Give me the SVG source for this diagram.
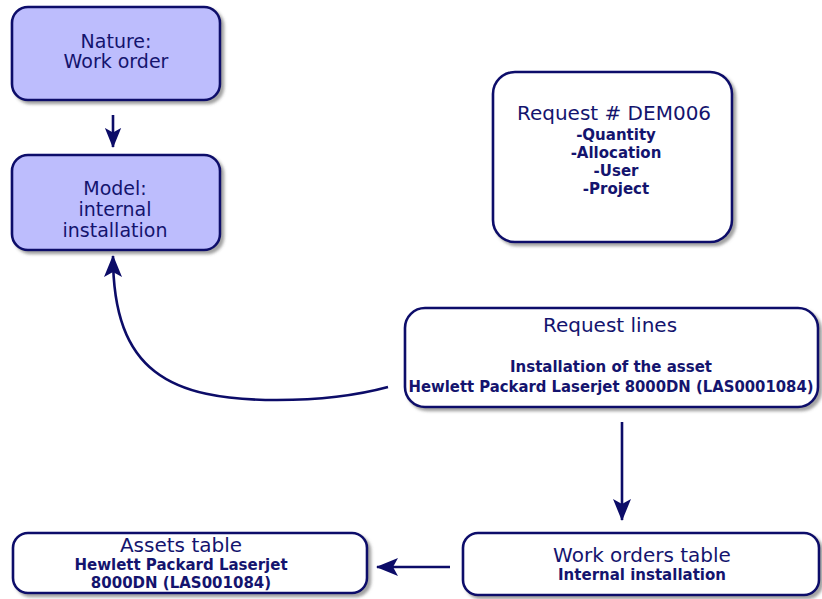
<svg xmlns="http://www.w3.org/2000/svg" width="822" height="599" viewBox="0 0 822 599">
<style>
.box{stroke:#11116b;stroke-width:2.6;filter:url(#sh)}
.blue{fill:#bdbdfd}
.white{fill:#ffffff}
.t{font-family:"DejaVu Sans",Verdana,sans-serif;fill:#14146e;text-anchor:middle}
.n{font-size:20px}
.m{font-size:19px}
.b{font-size:15px;font-weight:bold}
.c{fill:none;stroke:#0c0c68;stroke-width:2.6}
</style>
<defs>
<filter id="sh" x="-10%" y="-10%" width="120%" height="130%">
<feDropShadow dx="3" dy="3" stdDeviation="1.8" flood-color="#555" flood-opacity="0.55"/>
</filter>
<marker id="ah" viewBox="0 0 22 18" refX="21" refY="9" markerWidth="22" markerHeight="18" markerUnits="userSpaceOnUse" orient="auto">
<path d="M22,9 L0,0 L5,9 L0,18 Z" fill="#0c0c68"/>
</marker>
<marker id="ahs" viewBox="0 0 22 18" refX="21" refY="9" markerWidth="20" markerHeight="17" markerUnits="userSpaceOnUse" orient="auto">
<path d="M22,9 L0,0 L5,9 L0,18 Z" fill="#0c0c68"/>
</marker>
</defs>
<rect width="822" height="599" fill="#ffffff"/>

<g id="connectors">
<path class="c" d="M113,115 L113,147" marker-end="url(#ahs)"/>
<path class="c" d="M388,387 Q340,400 277,400 C170,400 113,372 113,256" marker-end="url(#ah)"/>
<path class="c" d="M622,422 L622,520" marker-end="url(#ah)"/>
<path class="c" d="M450,567 L377,567" marker-end="url(#ah)"/>
</g>

<g id="nature">
<rect class="box blue" x="12" y="7" width="208" height="93" rx="16"/>
<text class="t m" x="116" y="48">Nature:</text>
<text class="t m" x="116" y="68">Work order</text>
</g>

<g id="model">
<rect class="box blue" x="12" y="155" width="208" height="95" rx="16"/>
<text class="t m" x="115" y="195">Model:</text>
<text class="t m" x="115" y="216">internal</text>
<text class="t m" x="115" y="237">installation</text>
</g>

<g id="request">
<rect class="box white" x="493" y="72" width="239" height="170" rx="22"/>
<text class="t n" x="614" y="120">Request # DEM006</text>
<text class="t b" x="616" y="140">-Quantity</text>
<text class="t b" x="616" y="158">-Allocation</text>
<text class="t b" x="616" y="176">-User</text>
<text class="t b" x="616" y="194">-Project</text>
</g>

<g id="request-lines">
<rect class="box white" x="405" y="308" width="413" height="99" rx="20"/>
<text class="t n" x="610" y="332">Request lines</text>
<text class="t b" x="611" y="372">Installation of the asset</text>
<text class="t b" x="611" y="392" textLength="405" lengthAdjust="spacingAndGlyphs">Hewlett Packard Laserjet 8000DN (LAS0001084)</text>
</g>

<g id="work-orders">
<rect class="box white" x="463" y="533" width="356" height="62" rx="15"/>
<text class="t n" x="642" y="562">Work orders table</text>
<text class="t b" x="642" y="580">Internal installation</text>
</g>

<g id="assets">
<rect class="box white" x="13" y="533" width="354" height="60" rx="15"/>
<text class="t n" x="181" y="552">Assets table</text>
<text class="t b" x="181" y="570">Hewlett Packard Laserjet</text>
<text class="t b" x="181" y="588">8000DN (LAS001084)</text>
</g>
</svg>
